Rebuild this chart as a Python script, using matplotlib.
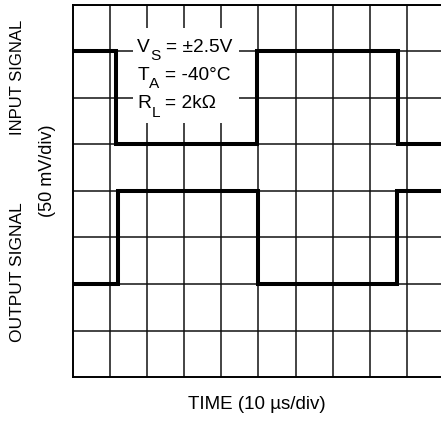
import matplotlib
matplotlib.use("Agg")
import matplotlib.pyplot as plt
from matplotlib.patches import Rectangle

plt.rcParams["font.family"] = ["Liberation Sans", "DejaVu Sans"]

# Scope traces, time in divisions, level in divisions from the bottom of the screen
input_t = [0.0, 1.17, 4.96, 8.76, 9.92]
input_level = [7, 5, 7, 5, 5]
output_t = [0.0, 1.21, 4.99, 8.73, 9.92]
output_level = [2, 4, 2, 4, 4]

# Test conditions: symbol, subscript, value
cond_symbol = ["V", "T", "R"]
cond_sub = ["S", "A", "L"]
cond_value = ["= ±2.5V", "= -40°C", "= 2kΩ"]

W, H = 441, 423
DPI = 100
fig = plt.figure(figsize=(W / DPI, H / DPI), dpi=DPI)
ax = fig.add_axes([73 / W, 46 / H, (W - 73) / W, 372 / H])
ax.set_xlim(0, 9.92)
ax.set_ylim(0, 8)

grid_kw = dict(color="#111111", lw=1.1, zorder=1)
for gx in range(1, 10):
    ax.axvline(gx, **grid_kw)
for gy in range(1, 9):
    ax.axhline(gy, **grid_kw)

ax.spines["right"].set_visible(False)
for side in ["left", "bottom", "top"]:
    ax.spines[side].set_linewidth(1.4)
ax.set_xticks([])
ax.set_yticks([])

ax.plot(input_t, input_level, drawstyle="steps-post", color="black", lw=2.9,
        zorder=3, solid_joinstyle="miter")
ax.plot(output_t, output_level, drawstyle="steps-post", color="black", lw=2.9,
        zorder=3, solid_joinstyle="miter")

ax.add_patch(Rectangle((1.62, 5.46), 2.85, 2.04, facecolor="white",
                       edgecolor="none", zorder=2))

renderer = fig.canvas.get_renderer()
FS = 13.8
px2pt = 72 / DPI
for i in range(len(cond_symbol)):
    x0, y0 = 1.73, 6.99 - i * 0.605
    t1 = ax.text(x0, y0, cond_symbol[i], fontsize=FS, ha="left",
                 va="baseline", zorder=4)
    w1 = t1.get_window_extent(renderer).width
    t2 = ax.annotate(cond_sub[i], xy=(x0, y0), xytext=(w1 * px2pt + 0.2, -6),
                     textcoords="offset points", fontsize=FS * 0.8,
                     ha="left", va="baseline", zorder=4)
    w2 = t2.get_window_extent(renderer).width
    ax.annotate(cond_value[i], xy=(x0, y0),
                xytext=((w1 + w2) * px2pt + 4.2, 0),
                textcoords="offset points", fontsize=FS,
                ha="left", va="baseline", zorder=4)

ax.set_xlabel("TIME (10 µs/div)", fontsize=13.5, labelpad=14)

def ftext(px, py, s, size=12.5):
    fig.text(px / W, 1 - py / H, s, rotation=90, ha="center", va="center",
             fontsize=size)

ftext(18, 77, "INPUT SIGNAL", size=12)
ftext(18, 272, "OUTPUT SIGNAL")
ftext(47, 171, "(50 mV/div)", size=13)

fig.savefig("out.png", dpi=DPI)
